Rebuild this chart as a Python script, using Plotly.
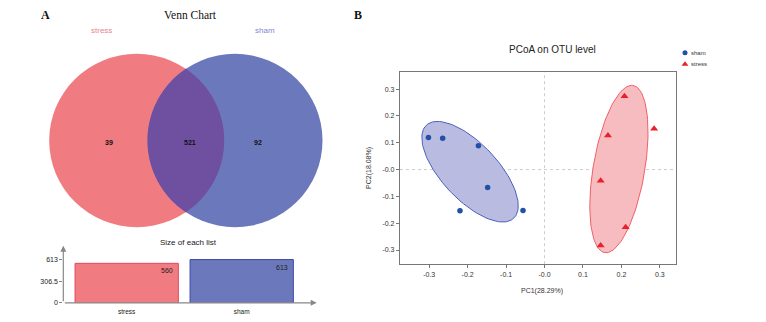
import numpy as np
import plotly.graph_objects as go

W, H = 766, 322
OFF = 8                    # default page body margin
FW, FH = W - OFF, H - OFF  # figure size so that the page fits the window

# ---------------- data ----------------
groups = ["stress", "sham"]
venn_only = [39, 92]          # unique to stress, unique to sham
venn_shared = 521
list_sizes = [560, 613]
size_ticks = [0, 306.5, 613]

sham_pc1 = [-0.302, -0.265, -0.172, -0.148, -0.220, -0.056]
sham_pc2 = [0.120, 0.117, 0.089, -0.067, -0.154, -0.153]
stress_pc1 = [0.208, 0.165, 0.285, 0.146, 0.211, 0.146]
stress_pc2 = [0.273, 0.127, 0.152, -0.042, -0.215, -0.283]
pc_ticks = [-0.3, -0.2, -0.1, 0.0, 0.1, 0.2, 0.3]
pc_ticktext = ["-0.3", "-0.2", "-0.1", "-0.0", "0.1", "0.2", "0.3"]

RED = "#F07B80"
BLUE = "#6B79BC"
PURPLE = "#6F4FA0"

SANS = "Liberation Sans, Arial, sans-serif"
SERIF = "Liberation Serif, Times New Roman, serif"


def px(x):
    return (x - OFF) / FW


def py(y):
    return 1 - (y - OFF) / FH


fig = go.Figure()

# ---------------- canvas axis (window pixel coordinates) for the Venn ----------------
fig.update_layout(
    xaxis4=dict(domain=[0, 1], range=[OFF, OFF + FW], visible=False, fixedrange=True),
    yaxis4=dict(domain=[0, 1], range=[OFF + FH, OFF], visible=False, fixedrange=True),
)

cL = (136.7, 141.8)
cR = (235.0, 141.8)
r = 87.5
shapes = []
shapes.append(dict(type="circle", xref="x4", yref="y4", x0=cL[0] - r, x1=cL[0] + r,
                   y0=cL[1] - r, y1=cL[1] + r, fillcolor=RED, line=dict(width=0), layer="below"))
shapes.append(dict(type="circle", xref="x4", yref="y4", x0=cR[0] - r, x1=cR[0] + r,
                   y0=cR[1] - r, y1=cR[1] + r, fillcolor=BLUE, line=dict(width=0), layer="below"))
# lens
d = cR[0] - cL[0]
a = d / 2
h = np.sqrt(r ** 2 - a ** 2)
ang = np.arctan2(h, a)
t1 = np.linspace(-ang, ang, 60)          # arc of left circle (right side)
x1 = cL[0] + r * np.cos(t1)
y1 = cL[1] + r * np.sin(t1)
t2 = np.linspace(np.pi - ang, np.pi + ang, 60)   # arc of right circle (left side)
x2 = cR[0] + r * np.cos(t2)
y2 = cR[1] + r * np.sin(t2)
xs = np.concatenate([x1, x2])
ys = np.concatenate([y1, y2])
path = "M " + " L ".join(f"{xx:.2f},{yy:.2f}" for xx, yy in zip(xs, ys)) + " Z"
shapes.append(dict(type="path", xref="x4", yref="y4", path=path, fillcolor=PURPLE,
                   line=dict(width=0), layer="below"))

annotations = []


def text(x, y, s, size, color="#222", font=SANS, xanchor="center", **kw):
    annotations.append(dict(x=px(x), y=py(y), xref="paper", yref="paper", text=s,
                            showarrow=False, xanchor=xanchor, yanchor="middle",
                            font=dict(size=size, color=color, family=font), **kw))


text(45, 15, "<b>A</b>", 12, "#111", SERIF)
text(190, 15, "Venn Chart", 11.5, "#111", SERIF)
text(101, 31, groups[0], 8, "#E8848C")
text(265, 31, groups[1], 8, "#8088D0")
text(109, 143.3, f"<b>{venn_only[0]}</b>", 7, "#111")
text(190, 143.3, f"<b>{venn_shared}</b>", 7, "#111")
text(258, 143.3, f"<b>{venn_only[1]}</b>", 7, "#111")

# ---------------- bar chart: size of each list ----------------
bx0, bx1 = 63.3, 316.7
by0, by1 = 305.7, 248.0
unit = 115.0
xr = [-(126.7 - bx0) / unit, 1 + (bx1 - 241.7) / unit]
yscale = 613 / (305.7 - 262.0)
yr = [0, (by0 - by1) * yscale]
fig.add_trace(go.Bar(
    x=[0, 1], y=list_sizes, width=103.3 / unit,
    marker=dict(color=[RED, BLUE], line=dict(color=["#E04A5C", "#3A48A8"], width=1)),
    xaxis="x2", yaxis="y2", showlegend=False, hoverinfo="skip"))
fig.update_layout(
    xaxis2=dict(domain=[px(bx0), px(bx1)], range=xr, tickvals=[0, 1], ticktext=groups,
                showline=False, showgrid=False, zeroline=False, ticks="",
                ticklabelstandoff=4,
                tickfont=dict(size=6.5, family=SANS, color="#222"), anchor="y2",
                fixedrange=True),
    yaxis2=dict(domain=[py(by0), py(by1)], range=yr, tickvals=size_ticks,
                ticktext=[f"{v:g}" for v in size_ticks], showline=False, showgrid=False,
                zeroline=False, ticks="outside", ticklen=3, tickcolor="#888",
                tickfont=dict(size=7, family=SANS, color="#222"), anchor="x2",
                fixedrange=True),
)
for i, v in enumerate(list_sizes):
    annotations.append(dict(x=i + 0.449, y=v, xref="x2", yref="y2", text=str(v),
                            showarrow=False, xanchor="right", yanchor="top",
                            xshift=-3, yshift=-2,
                            font=dict(size=7, family=SANS, color="#222")))
# axis arrows
annotations.append(dict(x=xr[1], y=0, ax=xr[0], ay=0, xref="x2", yref="y2", axref="x2",
                        ayref="y2", text="", showarrow=True, arrowhead=2, arrowsize=1,
                        arrowwidth=1.2, arrowcolor="#888"))
annotations.append(dict(x=xr[0], y=yr[1], ax=xr[0], ay=0, xref="x2", yref="y2", axref="x2",
                        ayref="y2", text="", showarrow=True, arrowhead=2, arrowsize=1,
                        arrowwidth=1.2, arrowcolor="#888"))
text(188, 245, "Size of each list", 8, "#222")

# ---------------- PCoA ----------------
x_range = [-0.376, 0.342]
y_range = [-0.353, 0.365]


def ellipse(xv, yv, scale=1.42, n=120):
    P = np.vstack([xv, yv])
    m = P.mean(axis=1)
    cov = np.cov(P)
    vals, vecs = np.linalg.eigh(cov)
    t = np.linspace(0, 2 * np.pi, n)
    circ = np.vstack([np.cos(t), np.sin(t)])
    pts = vecs @ (np.sqrt(vals)[:, None] * scale * circ) + m[:, None]
    return pts[0], pts[1]


ex, ey = ellipse(sham_pc1, sham_pc2)
fig.add_trace(go.Scatter(x=ex, y=ey, mode="lines", fill="toself", fillcolor="#B9BCE0",
                         line=dict(color="#4A62BC", width=1), xaxis="x3", yaxis="y3",
                         showlegend=False, hoverinfo="skip"))
ex, ey = ellipse(stress_pc1, stress_pc2)
fig.add_trace(go.Scatter(x=ex, y=ey, mode="lines", fill="toself", fillcolor="#F7BCC0",
                         line=dict(color="#F06068", width=1), xaxis="x3", yaxis="y3",
                         showlegend=False, hoverinfo="skip"))
fig.add_trace(go.Scatter(x=sham_pc1, y=sham_pc2, mode="markers", name="sham",
                         marker=dict(symbol="circle", size=5.5, color="#2050A8"),
                         xaxis="x3", yaxis="y3", showlegend=False))
fig.add_trace(go.Scatter(x=stress_pc1, y=stress_pc2, mode="markers", name="stress",
                         marker=dict(symbol="triangle-up", size=7, color="#E8202A"),
                         xaxis="x3", yaxis="y3", showlegend=False))

px0, px1, pyt, pyb = 400, 676, 72.3, 266.7
fig.update_layout(
    xaxis3=dict(domain=[px(px0), px(px1)], range=x_range, tickvals=pc_ticks,
                ticktext=pc_ticktext, showline=True, mirror=True, linecolor="#777",
                linewidth=1.3, ticks="outside", ticklen=3, tickcolor="#777",
                showgrid=False, zeroline=False, anchor="y3",
                tickfont=dict(size=7, family=SANS, color="#333"), fixedrange=True),
    yaxis3=dict(domain=[py(pyb), py(pyt)], range=y_range, tickvals=pc_ticks,
                ticktext=pc_ticktext, showline=True, mirror=True, linecolor="#777",
                linewidth=1.3, ticks="outside", ticklen=3, tickcolor="#777",
                showgrid=False, zeroline=False, anchor="x3",
                tickfont=dict(size=7, family=SANS, color="#333"), fixedrange=True),
)
shapes.append(dict(type="line", xref="x3", yref="y3", x0=0, x1=0, y0=y_range[0], y1=y_range[1],
                   line=dict(color="#CCCCCC", width=1, dash="dot"), layer="below"))
shapes.append(dict(type="line", xref="x3", yref="y3", x0=x_range[0], x1=x_range[1], y0=0, y1=0,
                   line=dict(color="#CCCCCC", width=1, dash="dot"), layer="below"))

text(358, 15, "<b>B</b>", 12, "#111", SERIF)
text(552, 50, "PCoA on OTU level", 10, "#222")
text(542, 294, "PC1(28.29%)", 7, "#333")
text(369, 169.5, "PC2(18.08%)", 7, "#333", textangle=-90)

# manual legend
fig.add_trace(go.Scatter(x=[685], y=[53.3], mode="markers", xaxis="x4", yaxis="y4",
                         marker=dict(symbol="circle", size=5, color="#2050A8"),
                         showlegend=False, hoverinfo="skip"))
fig.add_trace(go.Scatter(x=[685], y=[64.7], mode="markers", xaxis="x4", yaxis="y4",
                         marker=dict(symbol="triangle-up", size=6, color="#E8202A"),
                         showlegend=False, hoverinfo="skip"))
text(689, 53.3, "sham", 6, "#333", xanchor="left")
text(689, 64.7, "stress", 6, "#333", xanchor="left")

fig.update_layout(
    width=FW, height=FH, margin=dict(l=0, r=0, t=0, b=0),
    paper_bgcolor="white", plot_bgcolor="rgba(0,0,0,0)",
    shapes=shapes, annotations=annotations, showlegend=False,
    font=dict(family=SANS),
)

fig.write_html("out.html")
